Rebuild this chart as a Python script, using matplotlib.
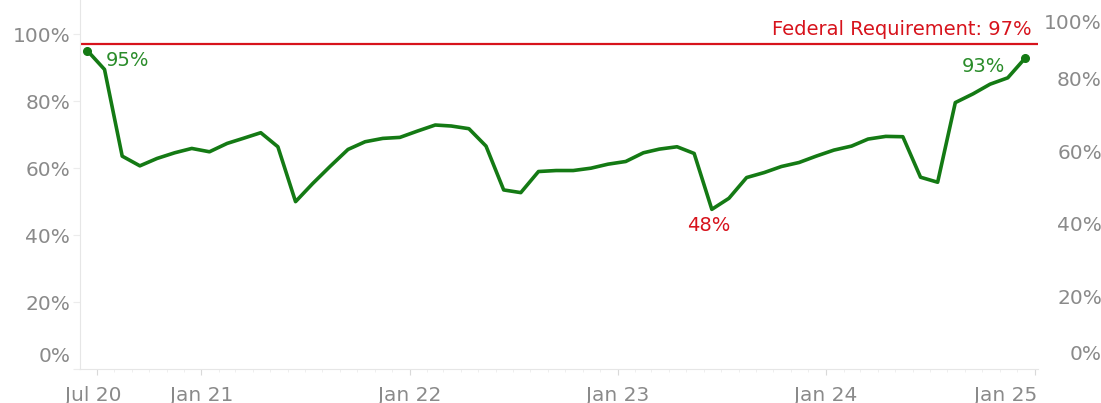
import matplotlib
matplotlib.use("Agg")
import matplotlib.pyplot as plt
import matplotlib.dates as mdates
from matplotlib.ticker import FixedLocator, FuncFormatter
from matplotlib.transforms import ScaledTranslation
import pandas as pd

# monthly compliance rate, Jun 2020 .. Dec 2024
months = pd.date_range("2020-06-01", "2024-12-01", freq="MS") + pd.Timedelta(days=14)
rate = [95.1, 89.5, 63.6, 60.7, 62.9, 64.6, 65.9, 64.9, 67.4, 68.9,
        70.6, 66.4, 50.0, 55.4, 60.6, 65.6, 67.9, 68.9, 69.2, 71.1,
        72.9, 72.6, 71.8, 66.6, 53.5, 52.7, 59.0, 59.3, 59.3, 60.0,
        61.2, 62.0, 64.6, 65.7, 66.4, 64.4, 47.7, 51.0, 57.2, 58.7,
        60.5, 61.7, 63.6, 65.4, 66.6, 68.7, 69.5, 69.4, 57.3, 55.8,
        79.6, 82.2, 85.1, 87.0, 92.8]
requirement = 97
tick_dates = ["2020-07-01", "2021-01-01", "2022-01-01", "2023-01-01", "2024-01-01", "2025-01-01"]
tick_labels = ["Jul 20", "Jan 21", "Jan 22", "Jan 23", "Jan 24", "Jan 25"]
pct_ticks = [0, 20, 40, 60, 80, 100]

green = "#147a14"
green_txt = "#2a8c2a"
red = "#d7131c"
grey = "#8a8a8a"
axis_grey = "#e6e6e6"
tick_fs = 14.5
note_fs = 14

plt.rcParams["font.family"] = ["DejaVu Sans"]

fig = plt.figure(figsize=(11.01, 4.03), dpi=100)
ax = fig.add_axes([80 / 1101, 1 - 369 / 403, (1038 - 80) / 1101, 369 / 403])
ax2 = ax.twinx()

ax.plot(months, rate, color=green, lw=2.6, solid_joinstyle="round", zorder=3)
ax.plot([months[0], months[-1]], [rate[0], rate[-1]], "o", color=green, ms=5.5, zorder=4)
ax.axhline(requirement, color=red, lw=1.6, zorder=2)

ax.set_xlim(pd.Timestamp("2020-06-02"), pd.Timestamp("2025-01-07"))
ax.set_ylim(0, 110.25)
ax2.set_ylim(0, 101.65)

pct = FuncFormatter(lambda v, p: f"{v:.0f}%")
for a in (ax, ax2):
    a.yaxis.set_major_locator(FixedLocator(pct_ticks))
    a.yaxis.set_major_formatter(pct)
    for s in a.spines.values():
        s.set_visible(False)

ax.spines["left"].set_visible(True)
ax.spines["bottom"].set_visible(True)
ax.spines["left"].set_color(axis_grey)
ax.spines["bottom"].set_color(axis_grey)

ax.set_xticks(pd.to_datetime(tick_dates))
ax.set_xticklabels(tick_labels)
ax.xaxis.set_minor_locator(mdates.MonthLocator())
ax.tick_params(axis="x", which="major", length=4, color="#d9d9d9", pad=8, labelsize=tick_fs, labelcolor=grey)
ax.tick_params(axis="x", which="minor", length=2.5, color="#ececec")
ax.tick_params(axis="y", length=5, color="#ececec", pad=2, labelsize=tick_fs, labelcolor=grey)
ax2.tick_params(axis="y", length=0, pad=46, labelsize=tick_fs, labelcolor=grey)
for lab in ax2.get_yticklabels():
    lab.set_horizontalalignment("right")

# Tableau pushes edge labels inside the view
def shift(label, dx, dy):
    label.set_transform(label.get_transform() + ScaledTranslation(dx / 100, dy / 100, fig.dpi_scale_trans))

xl = ax.get_xticklabels()
shift(xl[0], -3, 0)
shift(xl[-1], -29, 0)
shift(ax.get_yticklabels()[0], 0, 14)
shift(ax2.get_yticklabels()[0], 0, 17)
shift(ax2.get_yticklabels()[-1], 0, -16)

# value labels
lo = rate.index(min(rate))
ax.annotate(f"{rate[0]:.0f}%", (months[0], rate[0]), xytext=(18, -10), textcoords="offset pixels",
            ha="left", va="center", color=green_txt, fontsize=note_fs)
ax.annotate(f"{rate[-1]:.0f}%", (months[-1], rate[-1]), xytext=(-20, -8), textcoords="offset pixels",
            ha="right", va="center", color=green_txt, fontsize=note_fs)
ax.annotate(f"{rate[lo]:.0f}%", (months[lo], rate[lo]), xytext=(-3, -16), textcoords="offset pixels",
            ha="center", va="center", color=red, fontsize=note_fs)
ax.annotate(f"Federal Requirement: {requirement}%", (1, requirement), xycoords=ax.get_yaxis_transform(),
            xytext=(-6, 15), textcoords="offset pixels", ha="right", va="center", color=red, fontsize=note_fs)

fig.savefig("out.png", dpi=100)
